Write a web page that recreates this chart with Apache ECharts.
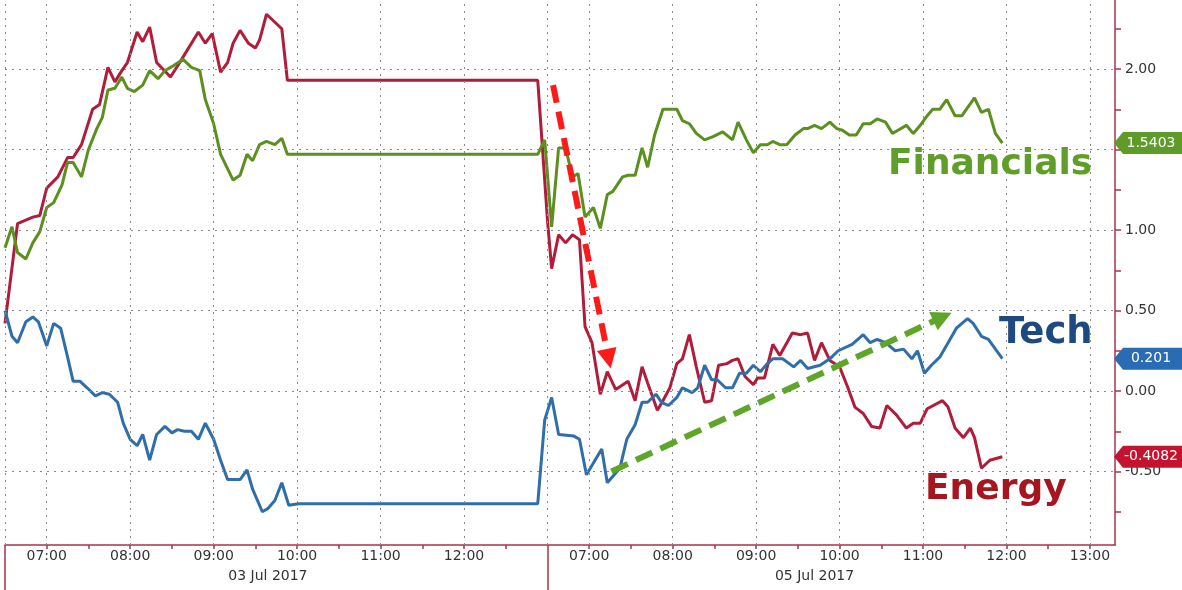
<!DOCTYPE html>
<html>
<head>
<meta charset="utf-8">
<script src="https://cdn.jsdelivr.net/npm/echarts@6/dist/echarts.min.js"></script>
<style>
  html, body { margin: 0; padding: 0; background: #ffffff; }
  #chart { width: 1182px; height: 590px; }
</style>
</head>
<body>
<div id="chart"></div>
<script>
// x = session minutes: 0 = 03 Jul 06:30, 390 = 03 Jul 13:00 joined to 05 Jul 06:30
const X_MAX = 798;
const dayLabels = ['03 Jul 2017', '05 Jul 2017'];
const dayLabelAt = [189, 582];
const sessionEdges = [0, 390];
const hourMarks = [30, 90, 150, 210, 270, 330, 420, 480, 540, 600, 660, 720, 780];
const yLabels = [-0.5, 0, 0.5, 1, 1.5, 2];
const yTicks = [-0.75, -0.5, -0.25, 0, 0.25, 0.5, 0.75, 1, 1.25, 1.5, 1.75, 2, 2.25];

const seriesNames = ['Energy', 'Tech', 'Financials'];
const lastLabels = ['-0.4082', '0.201', '1.5403'];

const energy = [
  [0,0.42],[9,1.04],[20,1.08],[25,1.09],[30,1.26],[38,1.33],[45,1.45],[49,1.45],[55,1.53],[63,1.75],
  [68,1.78],[74,2.01],[79,1.92],[84,1.99],[88,2.04],[95,2.23],[99,2.17],[104,2.26],[109,2.04],[119,1.95],
  [127,2.06],[139,2.23],[144,2.16],[149,2.22],[155,1.98],[160,2.04],[164,2.16],[169,2.24],[175,2.16],[180,2.13],
  [183,2.18],[188,2.34],[199,2.25],[203,1.93],[383,1.93],
  [390,1.06],[393,0.76],[398,0.97],[403,0.92],[408,0.97],[413,0.94],[417,0.40],[422,0.30],[428,-0.02],[433,0.12],
  [439,0.01],[448,0.06],[453,-0.06],[458,0.15],[462,0.05],[469,-0.12],[473,-0.06],[478,0.02],[483,0.17],[487,0.20],
  [492,0.35],[497,0.15],[503,-0.07],[508,-0.06],[513,0.16],[519,0.17],[523,0.19],[527,0.20],[532,0.09],[538,0.04],
  [541,0.08],[546,0.08],[552,0.29],[557,0.22],[566,0.36],[572,0.35],[577,0.36],[582,0.19],[587,0.30],[593,0.19],
  [600,0.15],[606,0.02],[611,-0.10],[617,-0.14],[623,-0.22],[629,-0.23],[634,-0.09],[641,-0.15],[648,-0.23],[653,-0.20],
  [658,-0.20],[663,-0.11],[674,-0.06],[678,-0.10],[683,-0.23],[689,-0.29],[694,-0.23],[697,-0.29],[702,-0.48],[708,-0.43],
  [717,-0.4082]
];

const tech = [
  [0,0.50],[5,0.34],[9,0.30],[15,0.43],[20,0.46],[24,0.43],[30,0.28],[35,0.42],[40,0.39],[45,0.21],
  [49,0.06],[54,0.06],[59,0.02],[65,-0.03],[70,-0.01],[75,-0.02],[81,-0.07],[85,-0.20],[90,-0.30],[95,-0.34],
  [99,-0.27],[104,-0.43],[109,-0.27],[115,-0.22],[120,-0.26],[124,-0.24],[129,-0.25],[134,-0.25],[139,-0.30],[144,-0.20],
  [150,-0.30],[155,-0.43],[160,-0.55],[169,-0.55],[174,-0.49],[178,-0.61],[185,-0.75],[189,-0.73],[194,-0.68],[199,-0.57],
  [204,-0.71],[211,-0.70],[383,-0.70],
  [388,-0.18],[393,-0.04],[398,-0.27],[409,-0.28],[413,-0.30],[418,-0.52],[429,-0.36],[433,-0.57],[442,-0.48],[447,-0.30],
  [453,-0.21],[458,-0.07],[462,-0.07],[468,-0.02],[472,-0.07],[477,-0.09],[483,-0.04],[487,0.02],[494,-0.01],[498,0.02],
  [503,0.16],[508,0.07],[512,0.07],[518,0.02],[523,0.02],[528,0.11],[533,0.11],[538,0.16],[543,0.12],[548,0.17],
  [552,0.20],[559,0.20],[567,0.15],[572,0.19],[577,0.14],[586,0.16],[593,0.20],[599,0.25],[609,0.29],[617,0.35],
  [622,0.30],[627,0.32],[633,0.30],[640,0.25],[646,0.26],[652,0.20],[656,0.25],[661,0.11],[666,0.16],[672,0.21],
  [678,0.30],[684,0.39],[692,0.45],[696,0.42],[702,0.34],[707,0.32],[717,0.201]
];

const financials = [
  [0,0.89],[5,1.02],[9,0.86],[15,0.82],[20,0.92],[25,0.99],[30,1.14],[35,1.17],[41,1.28],[45,1.42],
  [49,1.42],[55,1.33],[60,1.50],[66,1.63],[70,1.70],[74,1.87],[79,1.88],[84,1.95],[88,1.88],[93,1.86],
  [99,1.90],[104,1.99],[110,1.94],[115,1.99],[121,2.02],[128,2.06],[134,2.01],[140,1.99],[144,1.81],[150,1.66],
  [155,1.47],[164,1.31],[169,1.34],[174,1.47],[178,1.43],[183,1.53],[188,1.55],[194,1.53],[199,1.57],[203,1.47],
  [383,1.47],
  [388,1.56],[393,1.02],[398,1.51],[403,1.51],[408,1.33],[412,1.35],[417,1.08],[423,1.14],[428,1.01],[433,1.22],
  [437,1.24],[444,1.33],[448,1.34],[453,1.34],[458,1.51],[462,1.39],[467,1.59],[473,1.75],[483,1.75],[487,1.68],
  [492,1.66],[497,1.60],[503,1.56],[509,1.58],[516,1.61],[523,1.56],[527,1.67],[533,1.56],[538,1.48],[543,1.53],
  [548,1.53],[552,1.55],[557,1.53],[562,1.53],[568,1.59],[574,1.63],[577,1.63],[582,1.65],[587,1.63],[593,1.67],
  [598,1.63],[602,1.62],[607,1.59],[612,1.59],[617,1.66],[622,1.66],[627,1.69],[633,1.67],[638,1.60],[642,1.62],
  [648,1.65],[653,1.60],[658,1.65],[663,1.71],[667,1.75],[672,1.75],[677,1.81],[683,1.71],[688,1.71],[692,1.76],
  [697,1.82],[702,1.73],[707,1.75],[712,1.60],[717,1.5403]
];

// annotation arrows (data coordinates: [minute, value])
const redArrow = [[394, 1.90], [434, 0.20]];
const greenArrow = [[436, -0.50], [674, 0.46]];

const lineColors = ['#b01d3b', '#2f6ea8', '#5b8f1f'];
const tagColors = ['#c5122f', '#2a6cb3', '#5e9b29'];
const seriesData = [energy, tech, financials];

const AXIS_RED = '#a8344c';
const FONT = '"DejaVu Sans", Verdana, sans-serif';

function clock(m) {
  const t = 390 + (m < 390 ? m : m - 390);
  const h = Math.floor(t / 60), mm = t % 60;
  return { h, mm, s: (h < 10 ? '0' : '') + h + ':' + (mm < 10 ? '0' : '') + mm };
}

const chart = echarts.init(document.getElementById('chart'), null, { renderer: 'canvas' });

const TAG = 'path://M0,11L9,0L80,0L80,22L9,22Z';

const mainSeries = seriesNames.map((name, i) => {
  const d = seriesData[i];
  const last = d[d.length - 1][1];
  return {
    name,
    type: 'line',
    data: d,
    showSymbol: false,
    symbol: 'none',
    z: 3,
    lineStyle: { color: lineColors[i], width: 3 },
    itemStyle: { color: lineColors[i] },
    markPoint: {
      silent: true,
      symbol: TAG,
      symbolSize: [80, 22],
      symbolKeepAspect: false,
      symbolOffset: [39, 0],
      itemStyle: { color: tagColors[i] },
      label: {
        show: true,
        position: 'inside',
        offset: [-3, 0],
        color: '#ffffff',
        fontSize: 14,
        fontFamily: FONT,
        formatter: lastLabels[i]
      },
      data: [{ coord: [X_MAX, last] }]
    }
  };
});

const gridSeries = {
  name: 'grid',
  type: 'line',
  data: [],
  silent: true,
  z: 1,
  markLine: {
    silent: true,
    symbol: 'none',
    animation: false,
    label: { show: false },
    lineStyle: { type: [2, 5], color: '#8a8a8a', width: 1 },
    data: [
      ...yLabels.map(v => ({ yAxis: v })),
      ...sessionEdges.concat(hourMarks).map(m => ({ xAxis: m }))
    ]
  }
};

function arrowLine(pts, color) {
  return [
    { coord: pts[0], lineStyle: { color }, itemStyle: { color } },
    { coord: pts[1], lineStyle: { color }, itemStyle: { color } }
  ];
}

const arrowSeries = {
  name: 'arrows',
  type: 'line',
  data: [],
  silent: true,
  z: 5,
  markLine: {
    silent: true,
    animation: false,
    symbol: ['none', 'triangle'],
    symbolSize: 20,
    label: { show: false },
    lineStyle: { type: [18, 9], width: 6 },
    data: [
      arrowLine(redArrow, '#ff1a1a'),
      arrowLine(greenArrow, '#5fa52a')
    ]
  }
};

chart.setOption({
  animation: false,
  backgroundColor: '#ffffff',
  grid: { left: 5, right: 67, top: 0, bottom: 45, containLabel: false },
  xAxis: [
    {
      type: 'value',
      min: 0, max: X_MAX, interval: 30,
      position: 'bottom',
      axisLine: { show: true, onZero: false, lineStyle: { color: AXIS_RED, width: 1.5 } },
      axisTick: { show: true, length: 4, lineStyle: { color: AXIS_RED, width: 1.5 } },
      splitLine: { show: false },
      axisLabel: {
        color: '#333', fontSize: 14, fontFamily: FONT, margin: 4,
        showMinLabel: true, showMaxLabel: false,
        formatter: v => { const c = clock(v); return c.mm === 0 ? c.s : ''; }
      }
    },
    {
      type: 'value',
      min: 0, max: X_MAX,
      position: 'bottom',
      axisLine: { show: false, onZero: false },
      axisTick: { show: true, customValues: sessionEdges, length: 45, lineStyle: { color: AXIS_RED, width: 1.5 } },
      splitLine: { show: false },
      axisLabel: {
        color: '#333', fontSize: 14, fontFamily: FONT, margin: 24,
        customValues: dayLabelAt,
        formatter: v => (v < 390 ? dayLabels[0] : dayLabels[1])
      }
    }
  ],
  yAxis: {
    type: 'value',
    position: 'right',
    min: -0.9565, max: 2.4286,
    axisLine: { show: true, onZero: false, lineStyle: { color: AXIS_RED, width: 1.5 } },
    axisTick: { show: true, customValues: yTicks, length: 6, lineStyle: { color: AXIS_RED, width: 1.5 } },
    splitLine: { show: false },
    axisLabel: {
      color: '#333', fontSize: 14, fontFamily: FONT, margin: 10,
      customValues: yLabels,
      formatter: v => v.toFixed(2)
    }
  },
  series: [gridSeries, ...mainSeries, arrowSeries],
  graphic: [
    { type: 'text', x: 888, y: 165, z: 10,
      style: { text: 'Financials', fill: '#5f9e28', font: 'bold 36px ' + FONT, align: 'left', verticalAlign: 'middle' } },
    { type: 'text', x: 999, y: 333, z: 10,
      style: { text: 'Tech', fill: '#1f4a80', font: 'bold 37px ' + FONT, align: 'left', verticalAlign: 'middle' } },
    { type: 'text', x: 925, y: 490, z: 10,
      style: { text: 'Energy', fill: '#a6161f', font: 'bold 36px ' + FONT, align: 'left', verticalAlign: 'middle' } }
  ]
});
</script>
</body>
</html>
